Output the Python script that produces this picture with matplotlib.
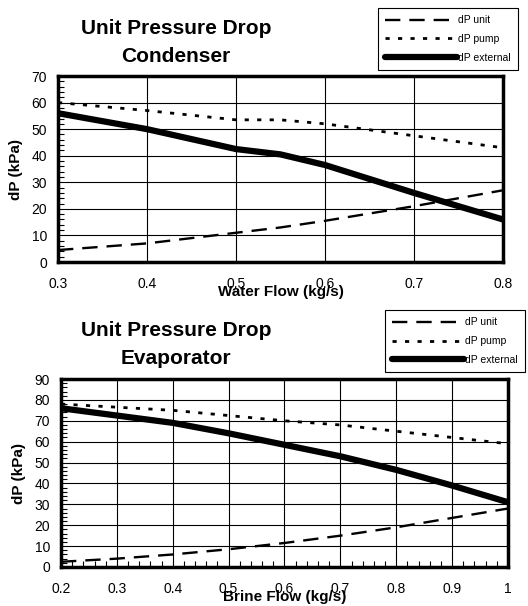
import matplotlib.pyplot as plt
from matplotlib.lines import Line2D
from matplotlib.ticker import MultipleLocator

plt.rcParams['font.family'] = ['Liberation Sans', 'DejaVu Sans']

# Condenser data
cond_x = [0.3, 0.4, 0.5, 0.55, 0.6, 0.7, 0.8]
cond_unit = [4.5, 7.0, 11.0, 13.0, 15.5, 21.0, 27.0]
cond_pump = [60.0, 57.0, 53.5, 53.5, 52.0, 47.5, 43.0]
cond_ext = [56.0, 50.0, 42.5, 40.5, 36.5, 26.0, 16.0]

# Evaporator data
evap_x = [0.2, 0.3, 0.4, 0.5, 0.6, 0.7, 0.8, 0.9, 1.0]
evap_unit = [2.5, 4.0, 6.0, 8.5, 11.5, 15.0, 19.0, 23.5, 28.0]
evap_pump = [78.0, 76.5, 75.0, 72.5, 70.0, 68.0, 65.0, 62.0, 59.0]
evap_ext = [76.0, 72.5, 69.0, 64.0, 58.5, 53.0, 46.5, 39.0, 31.0]

W, H = 528, 606
fig = plt.figure(figsize=(W / 100, H / 100), dpi=100)

unit_style = dict(color='black', lw=1.7, dashes=(6.5, 3.8))
pump_style = dict(color='black', lw=2.0, dashes=(1.5, 3))
ext_style = dict(color='black', lw=4.5, solid_capstyle='round')


def panel(rect, x, unit, pump, ext, xlim, ymax, xticks, xlabels, title, title_y,
          xlabel, leg_pos, bottom_minor):
    l, t, r, b = rect
    ax = fig.add_axes([l / W, 1 - b / H, (r - l) / W, (b - t) / H])
    ax.plot(x, unit, **unit_style)
    ax.plot(x, pump, **pump_style)
    ax.plot(x, ext, **ext_style)
    ax.set_xlim(*xlim)
    ax.set_ylim(0, ymax)
    ax.set_xticks(xticks)
    ax.set_xticklabels(xlabels)
    ax.yaxis.set_major_locator(MultipleLocator(10))
    ax.yaxis.set_minor_locator(MultipleLocator(2))
    if bottom_minor:
        ax.xaxis.set_minor_locator(MultipleLocator(0.02))
    ax.grid(True, which='major', color='black', lw=0.8)
    ax.tick_params(which='both', direction='in', labelsize=10, length=0)
    ax.tick_params(axis='x', pad=10.5)
    ax.tick_params(axis='y', pad=8)
    ax.tick_params(which='minor', length=4, width=0.8, left=True, bottom=bottom_minor)
    for s in ax.spines.values():
        s.set_linewidth(2.5)
    ax.set_xlabel(xlabel, fontsize=11, fontweight='bold', labelpad=-4)
    ax.set_ylabel('dP (kPa)', fontsize=11, fontweight='bold', labelpad=6)
    fig.text(176 / W, 1 - title_y / H, title, ha='center', va='center',
             fontsize=15, fontweight='bold', linespacing=1.6)
    handles = [Line2D([], [], **unit_style), Line2D([], [], **pump_style),
               Line2D([], [], **ext_style)]
    lx0, ly0 = leg_pos
    leg = fig.legend(handles, ['dP unit', 'dP pump', 'dP external'],
                     loc='upper left', bbox_to_anchor=(lx0 / W, 1 - ly0 / H),
                     fontsize=7.5, handlelength=6.9, handletextpad=0.05,
                     labelspacing=0.85, borderpad=0.7, borderaxespad=0,
                     fancybox=False, edgecolor='black', framealpha=1)
    leg.get_frame().set_linewidth(0.8)
    return ax


panel((58, 76, 503, 262), cond_x, cond_unit, cond_pump, cond_ext,
      (0.3, 0.8), 70, [0.3, 0.4, 0.5, 0.6, 0.7, 0.8],
      ['0.3', '0.4', '0.5', '0.6', '0.7', '0.8'],
      'Unit Pressure Drop\nCondenser', 42, 'Water Flow (kg/s)',
      (378, 8), False)

panel((61, 379, 508, 567), evap_x, evap_unit, evap_pump, evap_ext,
      (0.2, 1.0), 90, [0.2, 0.3, 0.4, 0.5, 0.6, 0.7, 0.8, 0.9, 1.0],
      ['0.2', '0.3', '0.4', '0.5', '0.6', '0.7', '0.8', '0.9', '1'],
      'Unit Pressure Drop\nEvaporator', 345, 'Brine Flow (kg/s)',
      (385, 310), True)

fig.savefig('out.png', dpi=100)
